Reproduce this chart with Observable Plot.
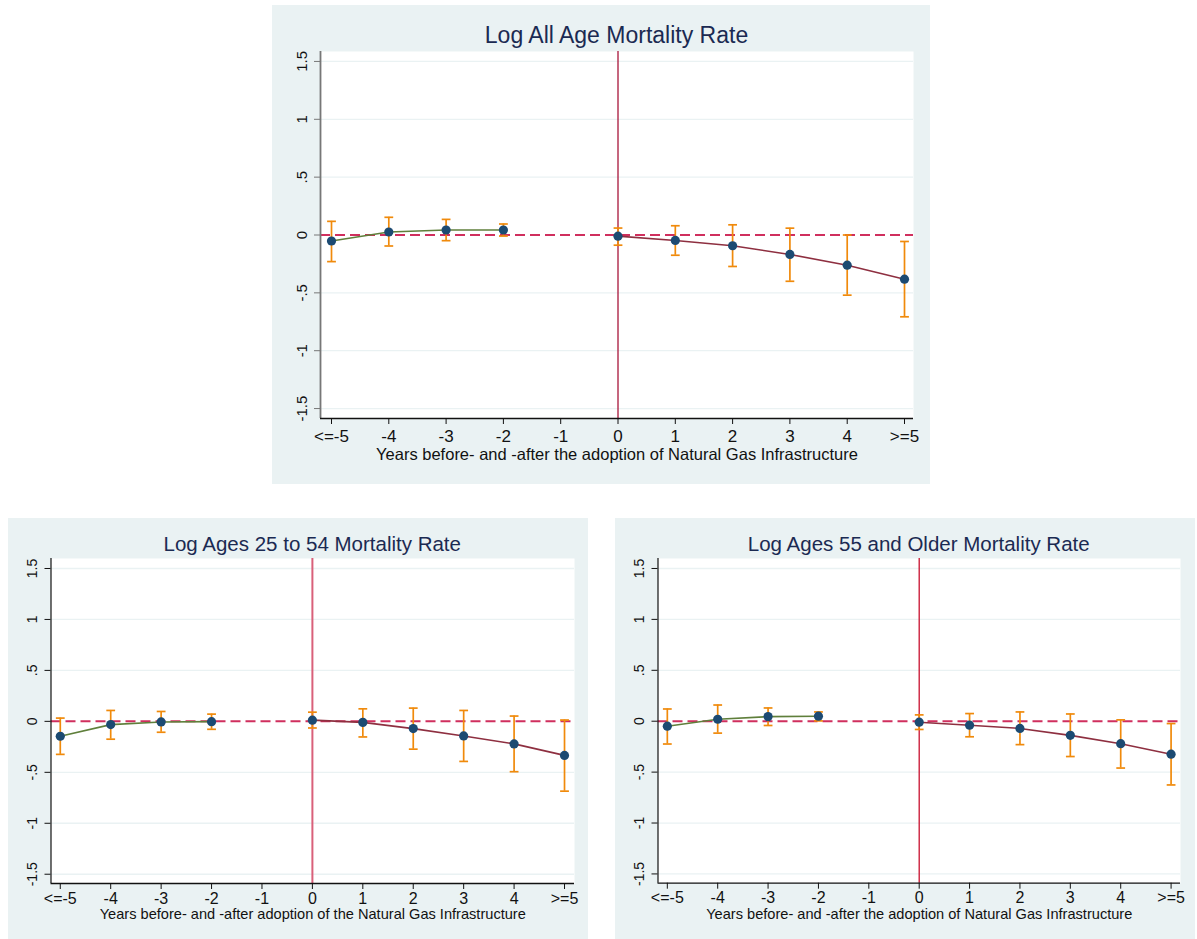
<!DOCTYPE html>
<html>
<head>
<meta charset="utf-8">
<script src="https://cdn.jsdelivr.net/npm/d3@7"></script>
<script src="https://cdn.jsdelivr.net/npm/@observablehq/plot@0.6"></script>
<style>
  html, body { margin: 0; padding: 0; background: #ffffff; }
  #page { position: relative; width: 1197px; height: 939px; overflow: hidden; font-family: "Liberation Sans", Arial, Helvetica, sans-serif; }
  .panel { position: absolute; background: #EAF2F3; }
  .panel svg { position: absolute; left: 0; top: 0; }
  .ptitle { position: absolute; text-align: center; color: #1B2A52; line-height: 1; white-space: nowrap; }
</style>
</head>
<body>
<div id="page"></div>
<script>
// ---------- data ----------
const xTickValues = [-5, -4, -3, -2, -1, 0, 1, 2, 3, 4, 5];
const xTickLabels = ["<=-5", "-4", "-3", "-2", "-1", "0", "1", "2", "3", "4", ">=5"];
const yTickValues = [-1.5, -1, -0.5, 0, 0.5, 1, 1.5];
const yTickLabels = ["-1.5", "-1", "-.5", "0", ".5", "1", "1.5"];
const eventTimes = [-5, -4, -3, -2, 0, 1, 2, 3, 4, 5];

const allAgeCoef = [-0.052, 0.026, 0.043, 0.043, -0.010, -0.047, -0.093, -0.168, -0.261, -0.382];
const allAgeLo   = [-0.230, -0.095, -0.049, -0.009, -0.088, -0.175, -0.272, -0.400, -0.520, -0.707];
const allAgeHi   = [0.118, 0.153, 0.135, 0.095, 0.060, 0.080, 0.088, 0.059, 0.000, -0.056];

const age2554Coef = [-0.146, -0.032, -0.006, -0.003, 0.012, -0.010, -0.071, -0.143, -0.221, -0.334];
const age2554Lo   = [-0.324, -0.175, -0.107, -0.078, -0.065, -0.153, -0.273, -0.393, -0.494, -0.685];
const age2554Hi   = [0.032, 0.107, 0.097, 0.071, 0.090, 0.123, 0.130, 0.107, 0.052, 0.013];

const age55Coef = [-0.049, 0.019, 0.045, 0.049, -0.010, -0.039, -0.071, -0.139, -0.221, -0.324];
const age55Lo   = [-0.224, -0.117, -0.042, 0.003, -0.081, -0.153, -0.230, -0.347, -0.460, -0.626];
const age55Hi   = [0.120, 0.159, 0.130, 0.091, 0.062, 0.075, 0.091, 0.071, 0.013, -0.023];

const panelTitles = [
  "Log All Age Mortality Rate",
  "Log Ages 25 to 54 Mortality Rate",
  "Log Ages 55 and Older Mortality Rate"
];
const xAxisTitles = [
  "Years before- and -after the adoption of Natural Gas Infrastructure",
  "Years before- and -after adoption of the Natural Gas Infrastructure",
  "Years before- and -after the adoption of Natural Gas Infrastructure"
];

// ---------- styling ----------
const FONT = "'Liberation Sans', Arial, Helvetica, sans-serif";
const C = {
  grid: "#EAF2F3",
  zero: "#D02F5E",
  orange: "#F08A0B",
  pre: "#5F7F3B",
  post: "#8E2F40",
  dot: "#1C4A72"
};

const capSymbol = {
  draw(ctx, size) {
    const w = Math.sqrt(size / Math.PI);
    ctx.moveTo(-w, 0);
    ctx.lineTo(w, 0);
  }
};

function makePanel(cfg) {
  const page = document.getElementById("page");
  const div = document.createElement("div");
  div.className = "panel";
  div.style.left = cfg.left + "px";
  div.style.top = cfg.top + "px";
  div.style.width = cfg.width + "px";
  div.style.height = cfg.height + "px";
  page.appendChild(div);

  const rows = eventTimes.map((t, i) => ({t, b: cfg.coef[i], lo: cfg.lo[i], hi: cfg.hi[i]}));
  const pre = rows.filter(d => d.t < 0);
  const post = rows.filter(d => d.t >= 0);
  const grid = yTickValues.filter(v => v !== 0);
  const m = cfg.margin;

  const chart = Plot.plot({
    width: cfg.width,
    height: cfg.height,
    marginLeft: m.left, marginRight: m.right, marginTop: m.top, marginBottom: m.bottom,
    style: {background: "transparent", fontFamily: FONT, fontSize: cfg.tickFont + "px", color: "#111", overflow: "visible"},
    x: {domain: cfg.xDomain, axis: null, label: null},
    y: {domain: cfg.yDomain, axis: null, label: null},
    marks: [
      Plot.frame({fill: "white", stroke: "none"}),
      Plot.ruleY(grid, {stroke: C.grid, strokeWidth: 1.3}),
      Plot.ruleY([0], {stroke: C.zero, strokeWidth: 2, strokeDasharray: "10,5"}),
      Plot.ruleX([0], {stroke: cfg.vColor, strokeWidth: cfg.vWidth}),
      Plot.ruleX(rows, {x: "t", y1: "lo", y2: "hi", stroke: C.orange, strokeWidth: 1.7}),
      Plot.dot(rows, {x: "t", y: "lo", symbol: capSymbol, r: 4.4, fill: "none", stroke: C.orange, strokeWidth: 1.7}),
      Plot.dot(rows, {x: "t", y: "hi", symbol: capSymbol, r: 4.4, fill: "none", stroke: C.orange, strokeWidth: 1.7}),
      Plot.line(pre, {x: "t", y: "b", stroke: C.pre, strokeWidth: 1.6}),
      Plot.line(post, {x: "t", y: "b", stroke: C.post, strokeWidth: 1.6}),
      Plot.dot(rows, {x: "t", y: "b", r: 4.6, fill: C.dot, stroke: "none"}),
      // axis lines
      Plot.ruleX([cfg.xDomain[0]], {stroke: cfg.yAxisColor, strokeWidth: cfg.yAxisWidth}),
      Plot.ruleY([cfg.yDomain[0]], {stroke: "#111", strokeWidth: 1.3}),
      // tick marks
      Plot.axisX({ticks: xTickValues, tickFormat: () => "", tickSize: 6, stroke: "#111", label: null}),
      Plot.axisY({ticks: yTickValues, tickFormat: () => "", tickSize: 6, stroke: cfg.yAxisColor, label: null}),
      // tick labels
      Plot.text(xTickValues, {x: d => d, text: (d, i) => xTickLabels[i], frameAnchor: "bottom", dy: cfg.xLabelDy,
        textAnchor: "middle", lineAnchor: "middle", fontSize: cfg.tickFont, fill: "#111"}),
      Plot.text(yTickValues, {y: d => d, text: (d, i) => yTickLabels[i], frameAnchor: "left", dx: -18, rotate: -90,
        textAnchor: "middle", lineAnchor: "middle", fontSize: cfg.yTickFont, fill: "#111"}),
      // x axis title
      Plot.text([cfg.xTitle], {text: d => d, frameAnchor: "bottom", dy: cfg.xTitleDy,
        textAnchor: "middle", lineAnchor: "middle", fontSize: cfg.xTitleFont, fill: "#111"})
    ]
  });
  div.appendChild(chart);

  const t = document.createElement("div");
  t.className = "ptitle";
  t.textContent = cfg.title;
  t.style.left = m.left + "px";
  t.style.width = (cfg.width - m.left - m.right) + "px";
  t.style.top = cfg.titleTop + "px";
  t.style.fontSize = cfg.titleFont + "px";
  div.appendChild(t);
}

makePanel({
  left: 272, top: 5, width: 658, height: 479,
  margin: {left: 48, right: 17, top: 46, bottom: 66},
  xDomain: [-5.192, 5.157], yDomain: [-1.586, 1.586],
  coef: allAgeCoef, lo: allAgeLo, hi: allAgeHi,
  title: panelTitles[0], xTitle: xAxisTitles[0],
  titleFont: 23, titleTop: 19, tickFont: 17, yTickFont: 15, xTitleFont: 16.5,
  xLabelDy: 18, xTitleDy: 36,
  vColor: "#A8153A", vWidth: 1.3, yAxisColor: "#777", yAxisWidth: 1.8
});

makePanel({
  left: 8, top: 518, width: 580, height: 421,
  margin: {left: 42.5, right: 14, top: 40, bottom: 56},
  xDomain: [-5.184, 5.198], yDomain: [-1.591, 1.598],
  coef: age2554Coef, lo: age2554Lo, hi: age2554Hi,
  title: panelTitles[1], xTitle: xAxisTitles[1],
  titleFont: 20.5, titleTop: 16, tickFont: 16, yTickFont: 14, xTitleFont: 14.6,
  xLabelDy: 15, xTitleDy: 31,
  vColor: "#D9607A", vWidth: 2, yAxisColor: "#111", yAxisWidth: 1.2
});

makePanel({
  left: 615, top: 518, width: 580, height: 421,
  margin: {left: 42.5, right: 15, top: 40, bottom: 56.3},
  xDomain: [-5.185, 5.187], yDomain: [-1.591, 1.598],
  coef: age55Coef, lo: age55Lo, hi: age55Hi,
  title: panelTitles[2], xTitle: xAxisTitles[2],
  titleFont: 20.5, titleTop: 16, tickFont: 16, yTickFont: 14, xTitleFont: 14.6,
  xLabelDy: 15, xTitleDy: 31,
  vColor: "#C8102E", vWidth: 1.3, yAxisColor: "#111", yAxisWidth: 1.2
});
</script>
</body>
</html>
